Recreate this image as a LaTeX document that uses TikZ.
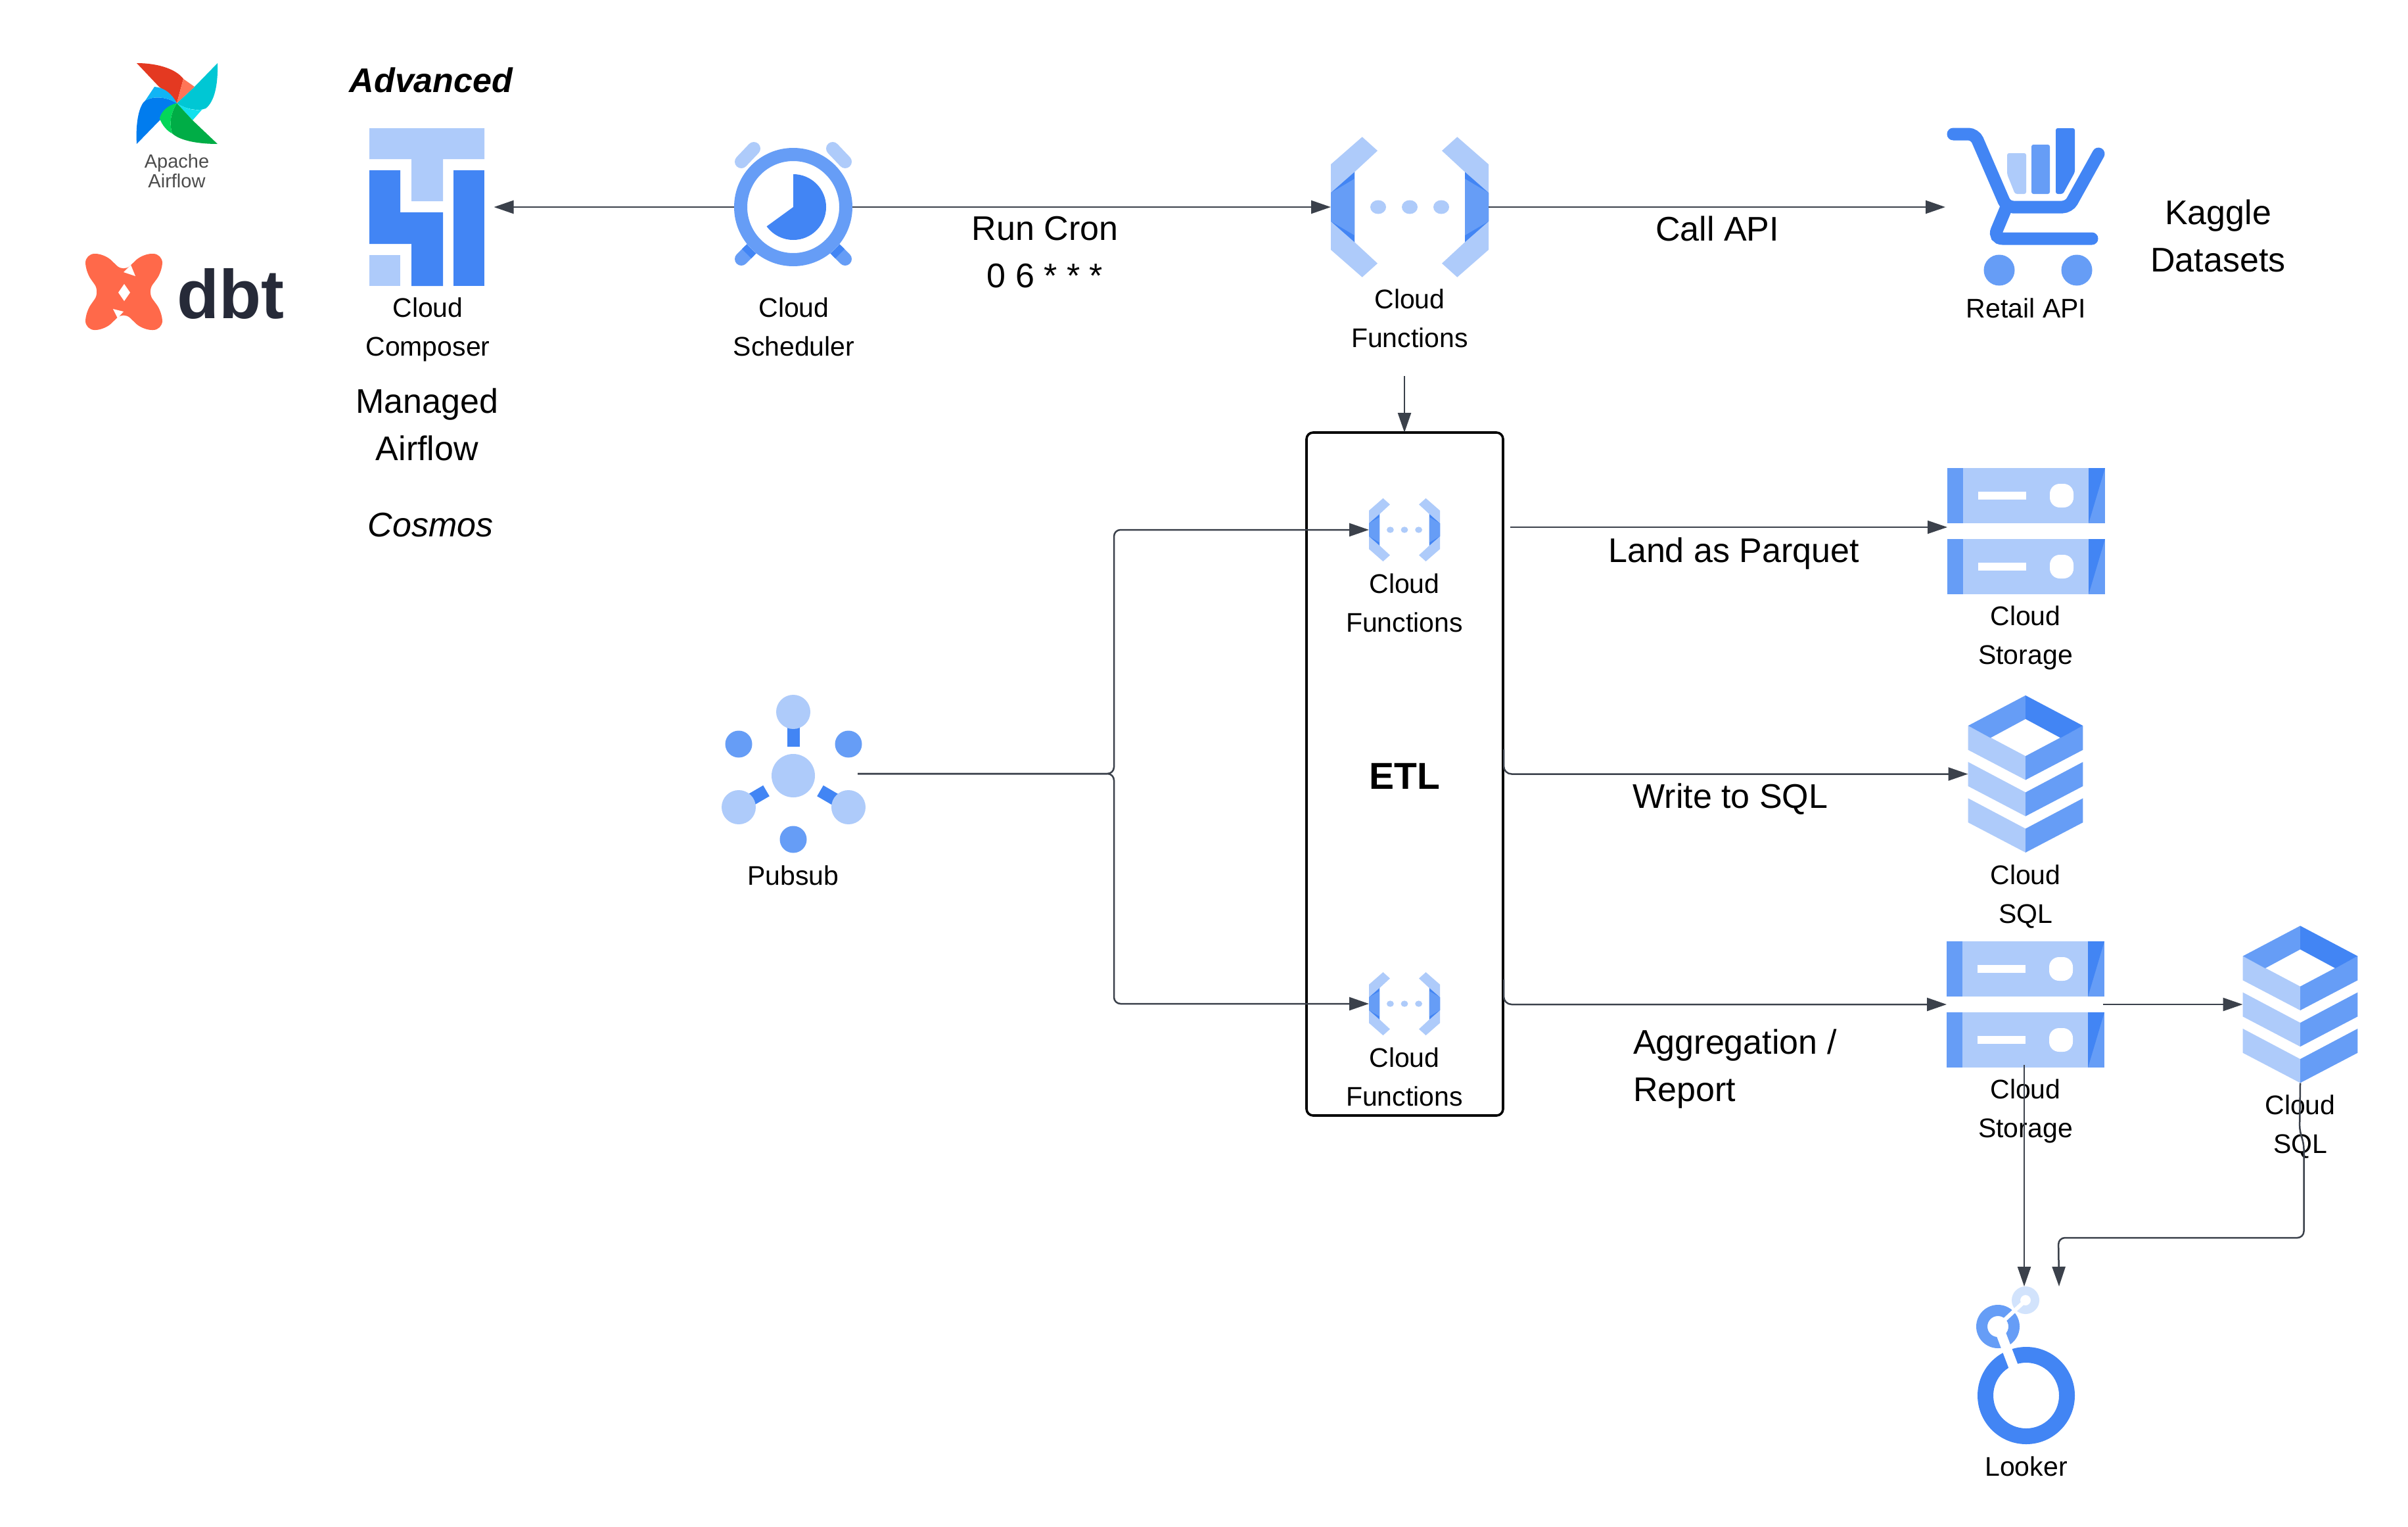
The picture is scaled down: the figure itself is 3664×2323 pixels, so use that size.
\documentclass[tikz,border=0pt]{standalone}
\usepackage{fontspec}
\setmainfont{Liberation Sans}
\usetikzlibrary{arrows.meta}

\definecolor{gdark}{HTML}{4285F4}
\definecolor{gmid}{HTML}{669DF6}
\definecolor{glight}{HTML}{AECBFA}
\definecolor{gpale}{HTML}{D2E3FC}
\definecolor{flowgray}{HTML}{3B414B}
\definecolor{dbtorange}{HTML}{FF694A}
\definecolor{dbtink}{HTML}{262A38}
\definecolor{afred}{HTML}{E43921}
\definecolor{aforange}{HTML}{FF7557}
\definecolor{afblue}{HTML}{017CEE}
\definecolor{afsky}{HTML}{11B4F5}
\definecolor{afgreen}{HTML}{00AD46}
\definecolor{aflime}{HTML}{04D659}
\definecolor{afcyan}{HTML}{00C7D4}
\definecolor{afaqua}{HTML}{11E1EE}

\newcommand{\smalltext}{\fontsize{41}{58.5}\selectfont}
\newcommand{\bigtext}{\fontsize{52}{72}\selectfont}

\tikzset{
  iconbox/.style={minimum width=#1,inner sep=0pt,outer sep=0pt},
  flow/.style={-{Triangle[length=30pt,width=20pt]},line width=2.5pt,draw=flowgray},
  thinflow/.style={flow,line width=1.8pt},
  fnicon/.pic={
    \foreach \s in {-1,1} {
      \begin{scope}[xscale=\s]
        \fill[glight] (-72.3,-106.7) -- (-49,-85.7) -- (-84,-53.3) -- (-84,53.3) -- (-49,85.7) -- (-72.3,106.7) -- (-120,65) -- (-120,-65) -- cycle;
        \fill[gdark] (-120,-21.7) -- (-84,-53.3) -- (-84,53.3) -- (-120,21.7) -- cycle;
        \fill[gmid] (-120,-21.7) -- (-84,-43) -- (-84,43) -- (-120,21.7) -- cycle;
      \end{scope}
    }
    \foreach \d in {-48,0,48} \fill[glight] (\d,0) ellipse (12 and 10.5);
  },
  storeicon/.pic={
    \foreach \t in {-96,12} {
      \begin{scope}[shift={(0,\t)}]
        \fill[glight] (-120,0) rectangle (120,84);
        \fill[gmid] (-120,0) rectangle (-96,84);
        \fill[gmid] (95,0) rectangle (120,84);
        \fill[gdark] (95,0) -- (120,0) -- (95,84) -- cycle;
        \fill[white] (-73,36) rectangle (0,48);
        \fill[white,rounded corners=15pt] (36,24) rectangle (72,60);
      \end{scope}
    }
  },
  sqlicon/.pic={
    \foreach \t in {0,55.2,110.4} {
      \fill[glight] (-87.3,-73.5+\t) -- (0,-27.3+\t) -- (0,9+\t) -- (-87.3,-36.7+\t) -- cycle;
      \fill[gmid] (87.3,-73.5+\t) -- (0,-27.3+\t) -- (0,9+\t) -- (87.3,-36.7+\t) -- cycle;
    }
    \fill[gmid] (-87.3,-73.5) -- (0,-119.6) -- (0,-83.7) -- (-53.3,-55) -- cycle;
    \fill[gdark] (87.3,-73.5) -- (0,-119.6) -- (0,-83.7) -- (53.3,-55) -- cycle;
  },
}

\begin{document}
\begin{tikzpicture}[x=1pt,y=-1pt]

  \useasboundingbox (0,0) rectangle (3664,2323);
  \fill[white] (0,0) rectangle (3664,2323);

  % airflow logo
  \fill[afcyan] (331,96) .. controls (332,130) and (326,155) .. (313,165) .. controls (300,170) and (280,165) .. (269,157) -- (296,132) -- cycle;
  \fill[afaqua] (269,157) .. controls (280,165) and (300,170) .. (308,166) -- (293,183) -- cycle;
  \fill[afred] (208,96) .. controls (240,96) and (268,105) .. (279,120) -- (269,157) .. controls (262,145) and (250,138) .. (242,132) -- cycle;
  \fill[aforange] (279,120) -- (296,132) -- (269,157) -- cycle;
  \fill[afblue] (208,219) .. controls (206,185) and (212,160) .. (221,153) .. controls (235,145) and (255,148) .. (269,157) -- (243,183) -- cycle;
  \fill[afsky] (235,132) .. controls (250,133) and (262,143) .. (269,157) .. controls (255,148) and (235,145) .. (221,153) -- cycle;
  \fill[afgreen] (331,219) -- (293,183) -- (269,157) .. controls (258,175) and (258,190) .. (262,203) .. controls (275,215) and (305,219) .. (331,219);
  \fill[aflime] (269,157) .. controls (255,160) and (245,170) .. (243,180) .. controls (246,190) and (255,200) .. (262,203) .. controls (258,190) and (258,175) .. (269,157);

  % dbt logo
  \fill[dbtorange,rounded corners=14pt] (130,386) -- (159,386) -- (188,414) -- (217,386) -- (247,386) -- (247,413) -- (224,444) -- (247,475) -- (247,502) -- (217,502) -- (188,474) -- (159,502) -- (130,502) -- (130,475) -- (152,444) -- (130,413) -- cycle;
  \fill[white] (189,432) -- (198,445) -- (189,458) -- (180,445) -- cycle;
  \fill[white] (188,414) -- (199,403) -- (206,420) -- cycle;
  \fill[white] (188,474) -- (172,470) -- (179,484) -- cycle;

  % composer icon
  \fill[glight] (562,195) -- (737,195) -- (737,242) -- (674,242) -- (674,306) -- (626,306) -- (626,242) -- (562,242) -- cycle;
  \fill[gdark] (562,259) -- (609,259) -- (609,323) -- (674,323) -- (674,435) -- (626,435) -- (626,371) -- (562,371) -- cycle;
  \fill[gdark] (690,259) rectangle (737,435);
  \fill[glight] (562,388) rectangle (609,435);

  % scheduler icon
  \draw[glight,line width=20pt,line cap=round] (1128,246) -- (1147,226);
  \draw[glight,line width=20pt,line cap=round] (1286,246) -- (1267,226);
  \draw[gmid,line width=20pt,line cap=round] (1128,394) -- (1140,382);
  \draw[gmid,line width=20pt,line cap=round] (1286,394) -- (1274,382);
  \draw[gdark,line width=20pt] (1136,386) -- (1152,370);
  \draw[gdark,line width=20pt] (1278,386) -- (1262,370);
  \fill[white] (1207,315) circle (90);
  \fill[gmid,even odd rule] (1207,315) circle (90) (1207,315) circle (70);
  \fill[gdark] (1207,315) -- (1207,265) arc[start angle=-90,end angle=144,radius=50] -- cycle;

  \pic at (2145,315) {fnicon};
  \pic[scale=.45] at (2137,806) {fnicon};
  \pic[scale=.45] at (2137,1527) {fnicon};

  % cart icon
  \fill[glight,rounded corners=3pt] (3054,233) -- (3083,233) -- (3083,295) -- (3066,295) -- (3054,265) -- cycle;
  \fill[gmid,rounded corners=3pt] (3091,220) rectangle (3119,295);
  \fill[gdark,rounded corners=3pt] (3128,195) -- (3157,195) -- (3157,262) -- (3139,295) -- (3128,295) -- cycle;
  \draw[gdark,line width=19pt,line cap=round,rounded corners=10pt] (2972,204) -- (3005,204) -- (3053,315) -- (3148,315) -- (3193,234);
  \draw[gdark,line width=19pt,line cap=round,rounded corners=14pt] (3053,315) -- (3033,363) -- (3183,363);
  \fill[gmid] (3042,411) circle (23.5);
  \fill[gmid] (3160,411) circle (23.5);

  \pic at (3083,808) {storeicon};
  \pic at (3082,1528) {storeicon};
  \pic at (3082,1177.5) {sqlicon};
  \pic at (3500,1528) {sqlicon};

  % pubsub icon
  \draw[gdark,line width=19pt] (1207,1105) -- (1207,1136);
  \draw[gdark,line width=19pt] (1248,1203) -- (1272,1217);
  \draw[gdark,line width=19pt] (1166,1203) -- (1142,1217);
  \fill[glight] (1207,1180) circle (33);
  \foreach \px/\py in {1207/1083,1124/1228,1291/1228} \fill[glight] (\px,\py) circle (26);
  \foreach \px/\py in {1124/1132,1291/1132,1207/1277} \fill[gmid] (\px,\py) circle (20.5);

  % looker icon
  \fill[gdark,even odd rule] (3083,2123) circle (74) (3083,2123) circle (50);
  \fill[gmid,even odd rule] (3040,2018) circle (33) (3040,2018) circle (16);
  \fill[gpale,even odd rule] (3082,1978) circle (21) (3082,1978) circle (8);
  \draw[white,line width=6pt] (3050,2008) -- (3077,1983);
  \draw[white,line width=15pt] (3045,2030) -- (3064,2080);

  % icon anchors for the connectors
  \begin{scope}[every node/.style={inner sep=0pt,outer sep=0pt}]
    \node[iconbox=175pt] (composer) at (650,315) {};
    \node[iconbox=180pt] (scheduler) at (1207,315) {};
    \node[iconbox=240pt] (fnTop) at (2145,315) {};
    \node[iconbox=108pt] (fnUp) at (2137,806) {};
    \node[iconbox=108pt] (fnDown) at (2137,1527) {};
    \node[iconbox=240pt] (storeUp) at (3083,808) {};
    \node[iconbox=240pt] (storeDown) at (3082,1528) {};
    \node[iconbox=175pt] (sqlUp) at (3082,1177.5) {};
    \node[iconbox=175pt,minimum height=239pt] (sqlDown) at (3500,1528) {};
    \node[iconbox=196pt] (pubsub) at (1207,1177) {};
    \node[iconbox=148pt,minimum height=228pt] (looker) at (3083,2071) {};
    \node[draw=black,line width=3.6pt,rounded corners=10pt,minimum width=299pt,minimum height=1039pt] (etl) at (2137.5,1177.5) {};
  \end{scope}

  % small labels
  \begin{scope}[every node/.style={inner sep=0pt,anchor=north,align=center,font=\smalltext}]
    \node[text=black!70,font=\fontsize{29}{30}\selectfont] (airflowlbl) at (269,234) {Apache\\Airflow};
    \node (composerlbl) at (651,453) {Cloud\\Composer};
    \node (schedulerlbl) at (1208,453) {Cloud\\Scheduler};
    \node (fnToplbl) at (2145,440) {Cloud\\Functions};
    \node (retaillbl) at (3083,454) {Retail API};
    \node (fnUplbl) at (2137,873) {Cloud\\Functions};
    \node (fnDownlbl) at (2137,1594) {Cloud\\Functions};
    \node (storeUplbl) at (3082,922) {Cloud\\Storage};
    \node (sqlUplbl) at (3082,1316) {Cloud\\SQL};
    \node (storeDownlbl) at (3082,1642) {Cloud\\Storage};
    \node (sqlDownlbl) at (3500,1666) {Cloud\\SQL};
    \node (pubsublbl) at (1207,1317) {Pubsub};
    \node (lookerlbl) at (3083,2216) {Looker};
  \end{scope}

  % big labels
  \begin{scope}[every node/.style={inner sep=0pt,anchor=north,align=center,font=\bigtext}]
    \node[font=\bigtext\bfseries\itshape] (advancedlbl) at (656,103) {Advanced};
    \node (managedlbl) at (650,591) {Managed\\Airflow};
    \node[font=\bigtext\itshape] (cosmoslbl) at (655,780) {Cosmos};
    \node (cronlbl) at (1590,329) {Run Cron\\0 6 * * *};
    \node (calllbl) at (2613,329) {Call API};
    \node (kagglelbl) at (3375,304) {Kaggle\\Datasets};
    \node (parquetlbl) at (2638,818) {Land as Parquet};
    \node (writelbl) at (2633,1192) {Write to SQL};
    \node[align=left,anchor=north west] (agglbl) at (2485,1566) {Aggregation /\\Report};
    \node[font=\fontsize{57}{60}\selectfont\bfseries] (etllbl) at (2137,1161) {ETL};
    \node[font=\fontsize{105}{110}\selectfont\bfseries,text=dbtink,anchor=base] (dbtlbl) at (351,484) {dbt};
  \end{scope}

  % connectors
  \coordinate (fnDrop) at (2137,572);
  \coordinate (fork) at (1695,1177);
  \coordinate (landFrom) at (2298,802);
  \coordinate (etlSqlFrom) at (2288,1140);
  \coordinate (etlStoreFrom) at (2288,1490);
  \coordinate (storeSqlFrom) at (3200,1528);
  \coordinate (storeDrop) at (3080,1620);
  \coordinate (sqlJogA) at (3499,1722);
  \coordinate (sqlJogB) at (3505.5,1738);
  \coordinate (lookerIn) at (3133,1957);

  \draw[flow,shorten >=1pt] (scheduler.west) -- ([xshift=13pt]composer.east);
  \draw[flow] (scheduler.east) -- (fnTop.west);
  \draw[flow] (fnTop.east) -- (2960,315);
  \draw[flow] (fnDrop) -- (etl.north -| fnDrop);
  \draw[flow,rounded corners=10pt] (pubsub.east) -- (fork) -- (fork |- fnUp.west) -- (fnUp.west);
  \draw[flow,rounded corners=10pt] (pubsub.east) -- (fork) -- (fork |- fnDown.west) -- (fnDown.west);
  \draw[thinflow] (landFrom) -- (landFrom -| storeUp.west);
  \draw[flow,rounded corners=12pt] (etlSqlFrom) |- (sqlUp.west);
  \draw[flow,rounded corners=12pt] (etlStoreFrom) |- (storeDown.west);
  \draw[flow] (storeSqlFrom) -- (sqlDown.west);
  \draw[flow] (storeDrop) -- (storeDrop |- lookerIn);
  \draw[flow,rounded corners=10pt] (sqlDown.south) -- (sqlJogA) -- (sqlJogB) |- (3132,1883) -- (lookerIn);

\end{tikzpicture}
\end{document}
